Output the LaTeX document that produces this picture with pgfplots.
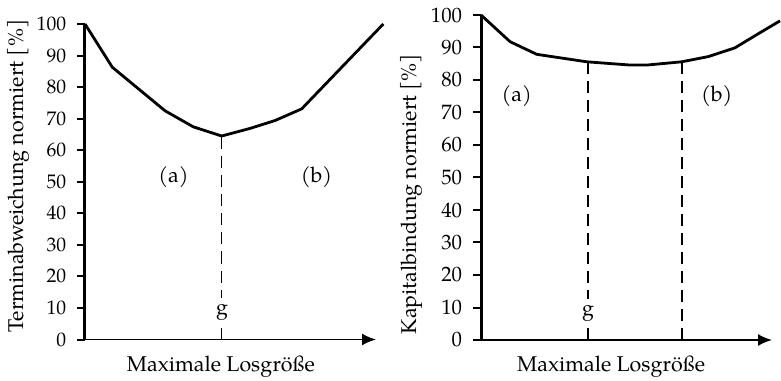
\documentclass[border=0pt]{standalone}
\usepackage{fontspec}
\setmainfont{TeX Gyre Pagella}
\usepackage{pgfplots}
\pgfplotsset{compat=1.18}
\usetikzlibrary{arrows.meta}

\pgfplotsset{
  myaxis/.style={
    scale only axis, width=145.5pt,
    xmin=0, xmax=291, ymin=0, ymax=100,
    axis x line=bottom, axis y line=left,
    x axis line style={-{Latex[length=7pt,width=6pt]}, line width=0.9pt},
    y axis line style={-, line width=1.5pt},
    xtick=\empty, ytick={0,10,...,100},
    tick align=outside, major tick length=3.9pt,
    tick style={black, line width=1pt},
    /pgf/number format/assume math mode=true,
    yticklabel style={font=\fontsize{9.8}{11}\selectfont, xshift=-2pt},
    label style={font=\fontsize{10.7}{12}\selectfont},
    clip=false,
  },
  curve/.style={black, line width=1.4pt, line join=round},
  guide/.style={black, line width=0.65pt, dash pattern=on 6pt off 3.5pt},
}

\pgfplotstableread{
x y
0 100
27.3 86.3
80 72.5
108.3 67.4
136.7 64.5
165 66.9
190 69.4
216.7 73.1
298.3 100
}\leftcurve

\pgfplotstableread{
x y
0 100
29 91.8
55.7 87.9
105.7 85.6
149 84.6
166 84.6
200.7 85.6
227.3 87.2
254 89.9
276 94
299 98.2
}\rightcurve

\begin{document}
\begin{tikzpicture}
\useasboundingbox (0,0) rectangle (390.5pt,190pt);
\begin{axis}[myaxis, height=157.75pt, at={(42.5pt,20.25pt)}, anchor=south west,
  ylabel={Terminabweichung normiert [\%]},
  xlabel={Maximale Losgröße},
  ylabel style={at={(axis description cs:-0.23,0.518)}, anchor=center},
  xlabel style={at={(axis description cs:0.467,-0.087)}, anchor=center},
]
\addplot[guide] coordinates {(136.7,0) (136.7,64.5)};
\addplot[curve] table {\leftcurve};
\node[font=\fontsize{10.7}{12}\selectfont] at (axis cs:88.5,51.5) {(a)};
\node[font=\fontsize{10.7}{12}\selectfont] at (axis cs:231.5,51.5) {(b)};
\node[font=\fontsize{10.7}{12}\selectfont, fill=white, inner sep=3pt] at (axis cs:137,8.7) {g};
\end{axis}
\begin{axis}[myaxis, height=162.5pt, at={(240.5pt,20pt)}, anchor=south west,
  yticklabel style={font=\fontsize{10.4}{11}\selectfont},
  ylabel={Kapitalbindung normiert [\%]},
  xlabel={Maximale Losgröße},
  ylabel style={at={(axis description cs:-0.2405,0.449)}, anchor=center},
  xlabel style={at={(axis description cs:0.447,-0.083)}, anchor=center},
]
\addplot[guide] coordinates {(107,0) (107,85.6)};
\addplot[guide] coordinates {(201,0) (201,85.6)};
\addplot[curve] table {\rightcurve};
\node[font=\fontsize{10.7}{12}\selectfont] at (axis cs:35.7,74.9) {(a)};
\node[font=\fontsize{10.7}{12}\selectfont] at (axis cs:235.7,74.9) {(b)};
\node[font=\fontsize{10.7}{12}\selectfont, fill=white, inner sep=3pt] at (axis cs:107,8.3) {g};
\end{axis}
\end{tikzpicture}
\end{document}
